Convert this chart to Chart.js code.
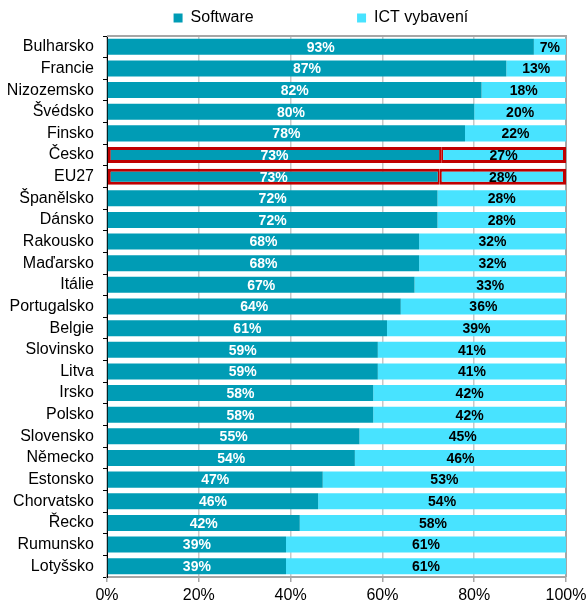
<!DOCTYPE html>
<html>
<head>
<meta charset="utf-8">
<script src="https://cdn.jsdelivr.net/npm/chart.js@4.4.1/dist/chart.umd.min.js"></script>
<style>
html,body{margin:0;padding:0;background:#fff;}
#wrap{width:587px;height:601px;position:relative;}
</style>
</head>
<body>
<div id="wrap"><canvas id="c" width="587" height="601"></canvas></div>
<script>
const categories = ["Bulharsko","Francie","Nizozemsko","Švédsko","Finsko","Česko","EU27","Španělsko","Dánsko","Rakousko","Maďarsko","Itálie","Portugalsko","Belgie","Slovinsko","Litva","Irsko","Polsko","Slovensko","Německo","Estonsko","Chorvatsko","Řecko","Rumunsko","Lotyšsko"];
const software = [93,87,81.6,80,78,72.8,72.5,72,72,68,68,67,64,61,59,59,58,58,55,54,47,46,42,39,39];
const ict = [7,13,18.4,20,22,27.2,27.5,28,28,32,32,33,36,39,41,41,42,42,45,46,53,54,58,61,61];
const xTicks = [0,20,40,60,80,100];
const seriesNames = ["Software","ICT vybavení"];
const highlighted = ["Česko","EU27"];

const FONT = "'Liberation Sans', Arial, sans-serif";
const SW_COLOR = '#009CB5';
const ICT_COLOR = '#48E3FF';

function isHi(ctx){ return highlighted.includes(categories[ctx.dataIndex]); }

const labelPlugin = {
  id: 'barLabels',
  afterDatasetsDraw(chart){
    const ctx = chart.ctx;
    ctx.save();
    ctx.font = "bold 14px " + FONT;
    ctx.textAlign = 'center';
    ctx.textBaseline = 'middle';
    chart.data.datasets.forEach((ds, di) => {
      const meta = chart.getDatasetMeta(di);
      meta.data.forEach((el, i) => {
        const v = ds.data[i];
        ctx.fillStyle = di === 0 ? '#FFFFFF' : '#000000';
        ctx.fillText(Math.round(v) + '%', (el.x + el.base) / 2, el.y + 1);
      });
    });
    ctx.restore();
  }
};

const framePlugin = {
  id: 'frame',
  beforeDatasetsDraw(chart){
    const a = chart.chartArea, ctx = chart.ctx;
    ctx.save();
    ctx.strokeStyle = '#A6A6A6';
    ctx.lineWidth = 2;
    ctx.beginPath();
    ctx.moveTo(a.left, a.top);
    ctx.lineTo(a.right, a.top);
    ctx.lineTo(a.right, a.bottom);
    ctx.stroke();
    ctx.restore();
  }
};

new Chart(document.getElementById('c'), {
  type: 'bar',
  data: {
    labels: categories,
    datasets: [
      {
        label: seriesNames[0],
        data: software,
        backgroundColor: SW_COLOR,
        borderColor: '#C00000',
        borderWidth: (ctx) => isHi(ctx) ? {left:3, top:3, bottom:3, right:2} : 0,
        borderSkipped: false,
        categoryPercentage: 1,
        barPercentage: 0.74
      },
      {
        label: seriesNames[1],
        data: ict,
        backgroundColor: ICT_COLOR,
        borderColor: '#C00000',
        borderWidth: (ctx) => isHi(ctx) ? {left:2, top:3, bottom:3, right:3} : 0,
        borderSkipped: false,
        categoryPercentage: 1,
        barPercentage: 0.74
      }
    ]
  },
  options: {
    indexAxis: 'y',
    responsive: false,
    animation: false,
    layout: { padding: { left: 0, right: 0, top: 0, bottom: 0 } },
    plugins: {
      tooltip: { enabled: false },
      legend: {
        position: 'top',
        align: 'center',
        fullSize: false,
        labels: {
          font: { family: FONT, size: 16 },
          color: '#000',
          boxWidth: 9,
          boxHeight: 9,
          padding: 10,
          generateLabels(chart){
            const items = Chart.defaults.plugins.legend.labels.generateLabels(chart);
            items.forEach(it => { it.lineWidth = 0; it.strokeStyle = 'rgba(0,0,0,0)'; });
            items[0].text = items[0].text + ' '.repeat(21);
            items[1].text = items[1].text + ' '.repeat(7);
            return items;
          }
        }
      }
    },
    scales: {
      x: {
        stacked: true,
        min: 0,
        max: 100,
        afterBuildTicks(scale){ scale.ticks = xTicks.map(v => ({value: v})); },
        afterFit(scale){ scale.height = 24; scale.paddingRight = 21; },
        ticks: {
          font: { family: FONT, size: 16 },
          color: '#000',
          padding: 4,
          maxRotation: 0,
          callback: (v) => v + '%'
        },
        grid: { color: '#C8C8C8', lineWidth: 1.5, tickLength: 5, tickColor: '#A6A6A6' },
        border: { color: '#A6A6A6', width: 2 }
      },
      y: {
        stacked: true,
        afterFit(scale){ scale.width = 107; },
        ticks: {
          font: { family: FONT, size: 16 },
          color: '#000',
          padding: 9,
          autoSkip: false
        },
        grid: { color: '#000', drawOnChartArea: false, tickLength: 4, offset: true },
        border: { color: '#000', width: 1 }
      }
    }
  },
  plugins: [labelPlugin, framePlugin]
});
</script>
</body>
</html>
